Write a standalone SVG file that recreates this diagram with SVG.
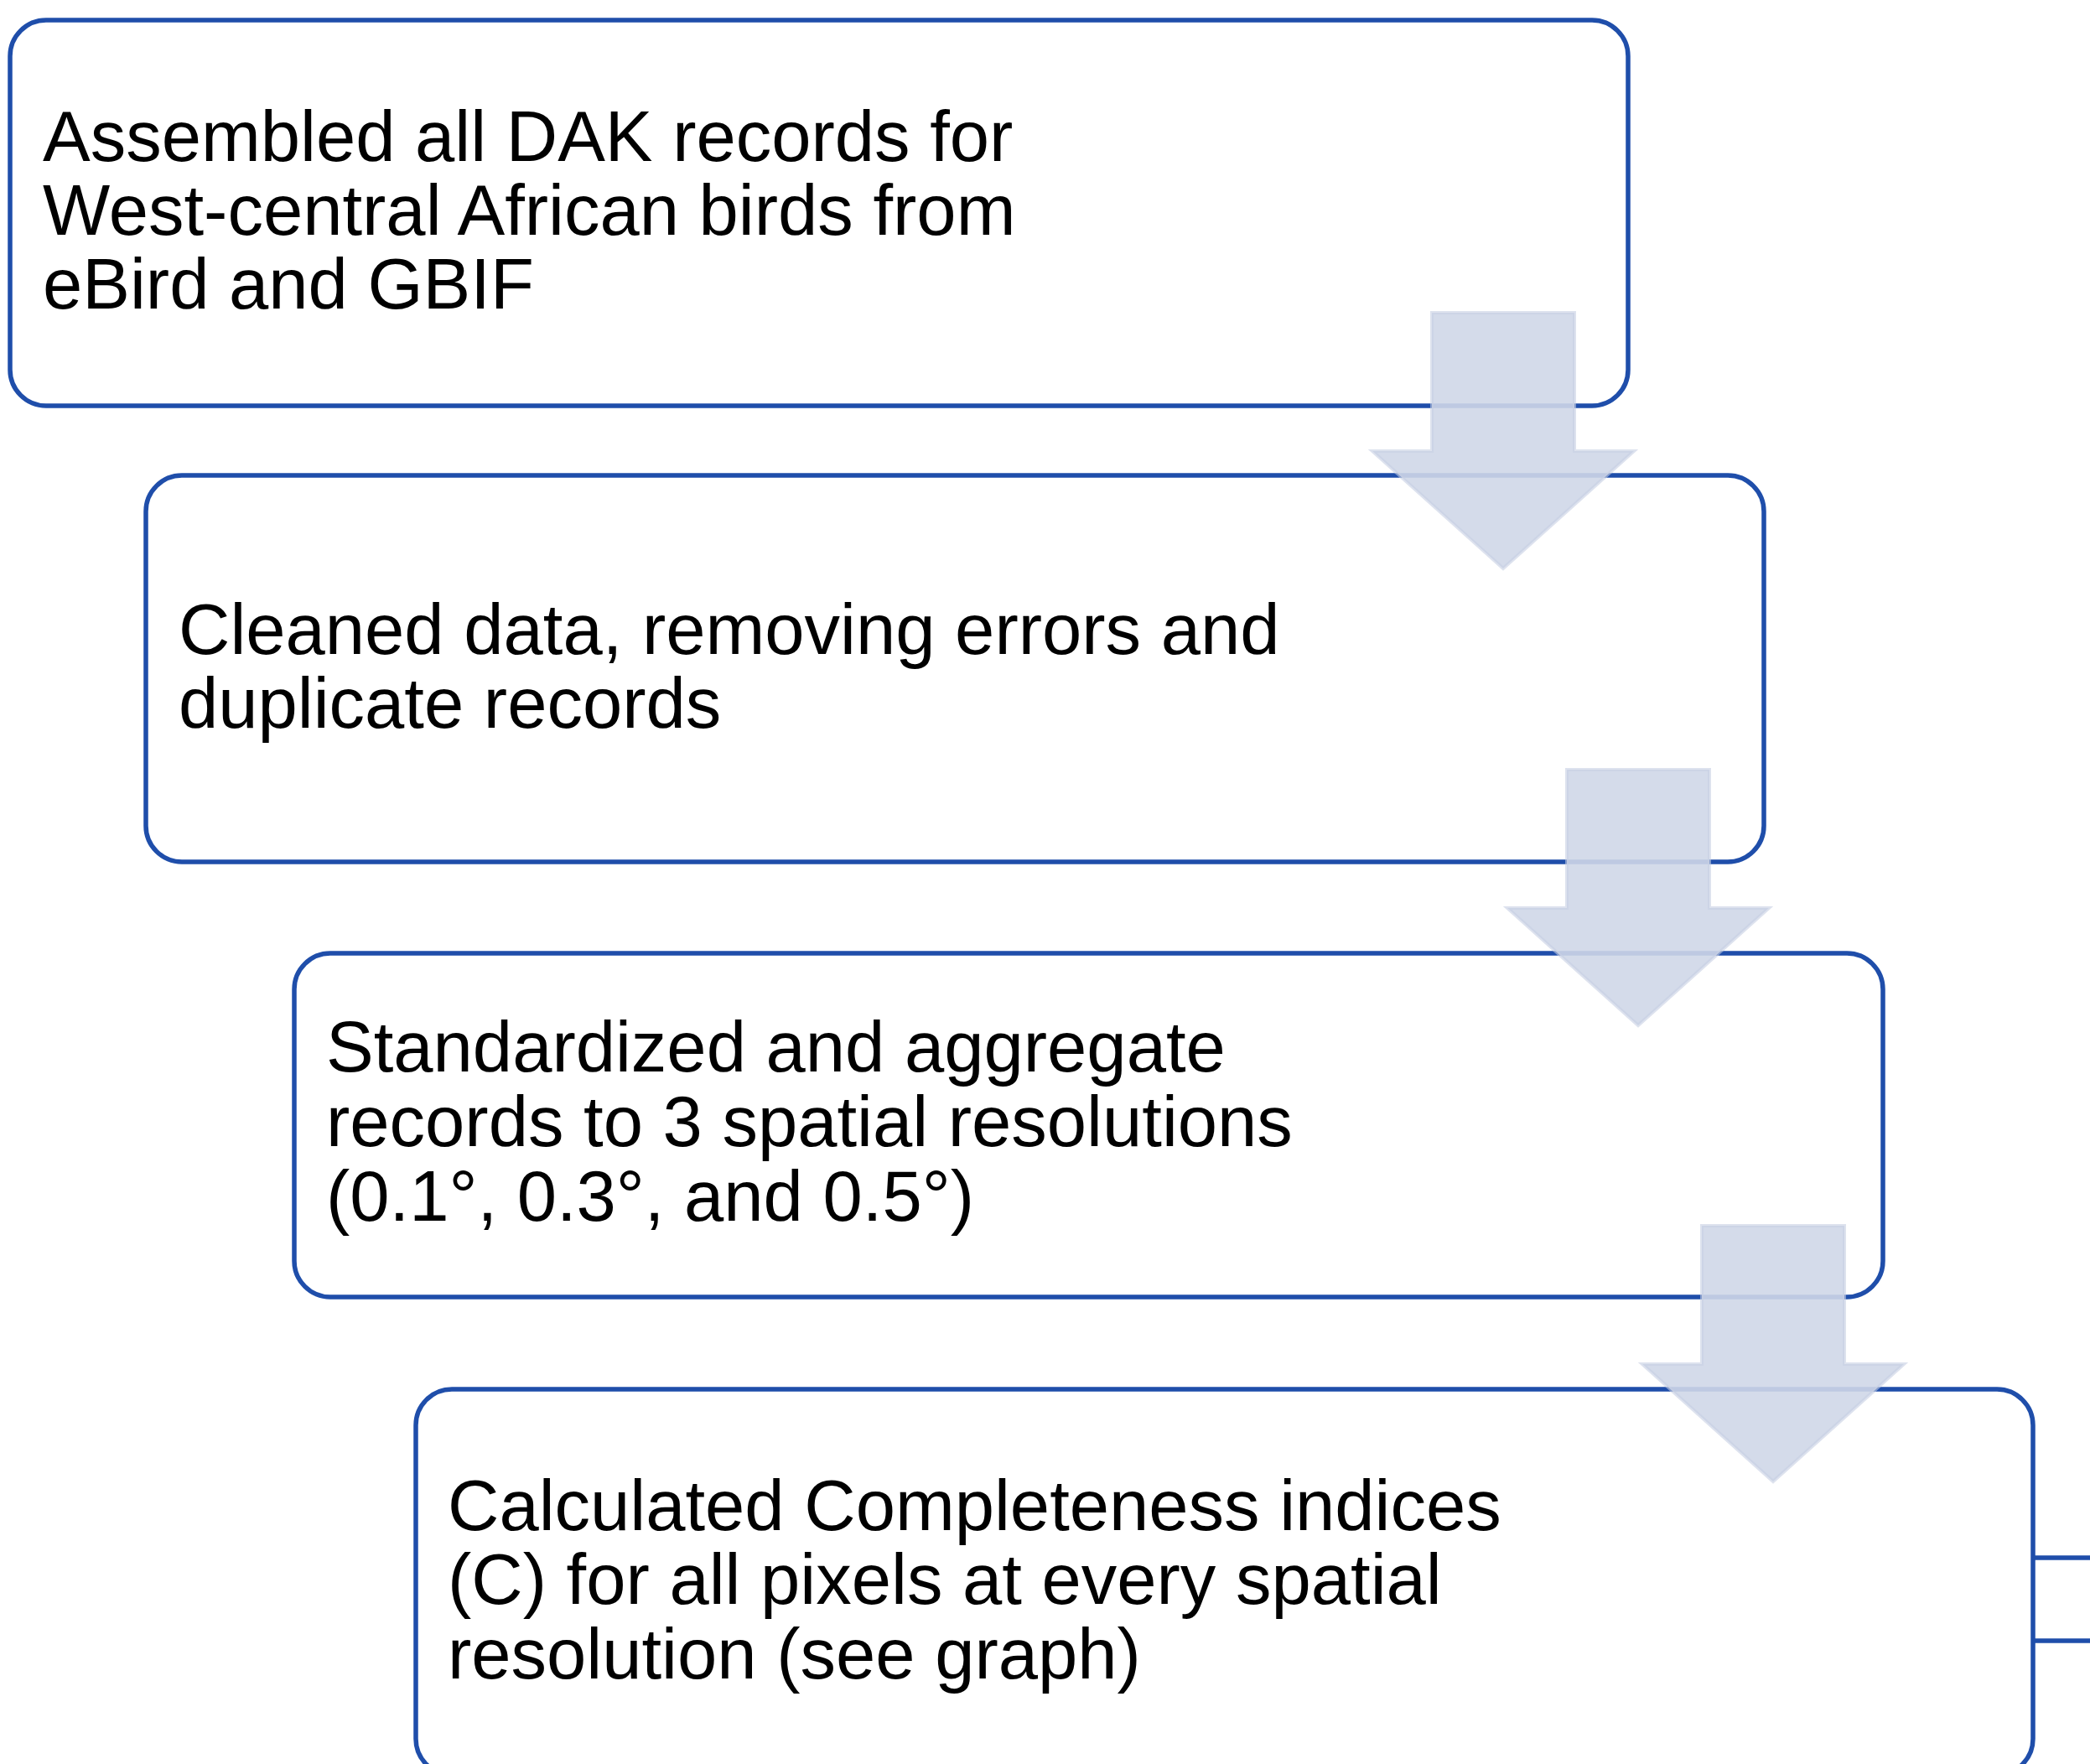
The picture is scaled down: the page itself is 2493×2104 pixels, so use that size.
<svg xmlns="http://www.w3.org/2000/svg" width="2493" height="2104" viewBox="0 0 2493 2104">
  <style>
    .box { fill: #FFFFFF; stroke: #1F4EAA; stroke-width: 5.5; }
    .txt { font-family: "Liberation Sans", Arial, sans-serif; font-size: 85px; fill: #000000; }
    .arrow { fill: #CFD7E8; fill-opacity: 0.9; stroke: #C6CFE3; stroke-opacity: 0.6; stroke-width: 4; stroke-linejoin: miter; }
    .link { stroke: #1F4EAA; stroke-width: 5.5; fill: none; }
  </style>
  <rect width="2493" height="2104" fill="#FFFFFF"/>

  <g id="node-assemble">
    <rect class="box" x="12" y="24" width="1930" height="460" rx="43" ry="43"/>
    <text class="txt" x="51" y="192">Assembled all DAK records for</text>
    <text class="txt" x="51" y="280">West-central African birds from</text>
    <text class="txt" x="51" y="368">eBird and GBIF</text>
  </g>

  <g id="node-clean">
    <rect class="box" x="174" y="567" width="1930" height="461" rx="43" ry="43"/>
    <text class="txt" x="213" y="780">Cleaned data, removing errors and</text>
    <text class="txt" x="213" y="868">duplicate records</text>
  </g>

  <g id="node-standardize">
    <rect class="box" x="351" y="1137" width="1895" height="410" rx="43" ry="43"/>
    <text class="txt" x="389" y="1278">Standardized and aggregate</text>
    <text class="txt" x="389" y="1367">records to 3 spatial resolutions</text>
    <text class="txt" x="389" y="1456">(0.1°, 0.3°, and 0.5°)</text>
  </g>

  <g id="node-completeness">
    <rect class="box" x="496" y="1657" width="1929" height="460" rx="43" ry="43"/>
    <text class="txt" x="534" y="1825">Calculated Completeness indices</text>
    <text class="txt" x="534" y="1913">(C) for all pixels at every spatial</text>
    <text class="txt" x="534" y="2002">resolution (see graph)</text>
  </g>

  <g id="connectors">
    <polygon class="arrow" points="1708,373 1878,373 1878,538 1949,538 1793,678 1637,538 1708,538"/>
    <polygon class="arrow" points="1869,918 2039,918 2039,1083 2110,1083 1954,1223 1798,1083 1869,1083"/>
    <polygon class="arrow" points="2030,1462 2200,1462 2200,1627 2271,1627 2115,1767 1959,1627 2030,1627"/>
    <line class="link" x1="2425" y1="1858" x2="2493" y2="1858"/>
    <line class="link" x1="2425" y1="1957" x2="2493" y2="1957"/>
  </g>
</svg>
